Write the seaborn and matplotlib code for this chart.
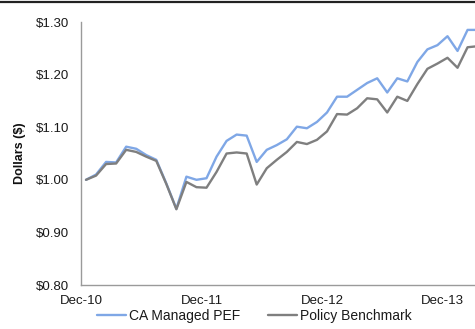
import numpy as np
import pandas as pd
import matplotlib
matplotlib.use("Agg")
import matplotlib.pyplot as plt
from matplotlib.lines import Line2D
import seaborn as sns

# Monthly growth of $1 invested, Dec-10 through Mar-14
months = ["Dec-10", "Jan-11", "Feb-11", "Mar-11", "Apr-11", "May-11", "Jun-11", "Jul-11",
          "Aug-11", "Sep-11", "Oct-11", "Nov-11", "Dec-11", "Jan-12", "Feb-12", "Mar-12",
          "Apr-12", "May-12", "Jun-12", "Jul-12", "Aug-12", "Sep-12", "Oct-12", "Nov-12",
          "Dec-12", "Jan-13", "Feb-13", "Mar-13", "Apr-13", "May-13", "Jun-13", "Jul-13",
          "Aug-13", "Sep-13", "Oct-13", "Nov-13", "Dec-13", "Jan-14", "Feb-14", "Mar-14"]

ca_managed_pef = [1.000, 1.010, 1.034, 1.033, 1.063, 1.059, 1.047, 1.038,
                  0.993, 0.945, 1.006, 1.000, 1.003, 1.044, 1.074, 1.086,
                  1.084, 1.034, 1.057, 1.066, 1.077, 1.101, 1.098, 1.110,
                  1.128, 1.158, 1.158, 1.171, 1.184, 1.193, 1.166, 1.193,
                  1.187, 1.224, 1.248, 1.256, 1.273, 1.245, 1.285, 1.285]

policy_benchmark = [1.000, 1.008, 1.030, 1.031, 1.057, 1.053, 1.044, 1.036,
                    0.992, 0.944, 0.996, 0.986, 0.985, 1.015, 1.050, 1.052,
                    1.050, 0.991, 1.022, 1.038, 1.053, 1.072, 1.068, 1.076,
                    1.092, 1.125, 1.124, 1.136, 1.155, 1.153, 1.128, 1.158,
                    1.150, 1.182, 1.211, 1.221, 1.232, 1.213, 1.252, 1.254]

series_names = ["CA Managed PEF", "Policy Benchmark"]
series_colors = ["#7fa7e6", "#7f7f7f"]

y_ticks = [0.80, 0.90, 1.00, 1.10, 1.20, 1.30]
x_tick_labels = ["Dec-10", "Dec-11", "Dec-12", "Dec-13"]

df = pd.DataFrame({
    "month": np.arange(len(months)),
    series_names[0]: ca_managed_pef,
    series_names[1]: policy_benchmark,
}).melt(id_vars="month", var_name="series", value_name="value")

sns.set_theme(style="white")
plt.rcParams["font.family"] = ["Liberation Sans", "DejaVu Sans"]

fig = plt.figure(figsize=(4.75, 3.29), dpi=100)
ax = fig.add_axes([0.1705, 0.1337, 0.8295, 0.7994])

sns.lineplot(data=df, x="month", y="value", hue="series", hue_order=series_names,
             palette=series_colors, linewidth=1.7, ax=ax, legend=False)

# category axis: ticks sit on the boundaries between yearly groups of months
ax.set_xlim(-0.5, 38.74)
ax.set_ylim(0.80, 1.30)
tick_pos = [months.index(lbl) - 0.5 for lbl in x_tick_labels]
ax.set_xticks(tick_pos)
ax.set_xticklabels(x_tick_labels)
ax.set_yticks(y_ticks)
ax.set_yticklabels([f"${v:.2f}" for v in y_ticks])

ax.set_xlabel("")
ax.set_ylabel("Dollars ($)", fontsize=9, fontweight="bold", color="#111111", labelpad=7)

for side in ["top", "right"]:
    ax.spines[side].set_visible(False)
for side in ["left", "bottom"]:
    ax.spines[side].set_color("#9a9a9a")
    ax.spines[side].set_linewidth(1.0)

ax.tick_params(axis="both", which="major", direction="out", length=3.5, width=0.9,
               color="#9a9a9a", labelsize=9.5, labelcolor="#1a1a1a")
ax.tick_params(axis="y", pad=5)
ax.tick_params(axis="x", pad=4)

handles = [Line2D([0], [0], color=c, lw=1.7) for c in series_colors]
fig.legend(handles, series_names, loc="lower center", bbox_to_anchor=(0.535, -0.012),
           ncol=2, frameon=False, fontsize=10, handlelength=2.1, handletextpad=0.2,
           columnspacing=2.0, labelcolor="#1a1a1a", borderpad=0.2)

# frame rule across the top of the figure
fig.add_artist(Line2D([0, 1], [0.995, 0.995], transform=fig.transFigure,
                      color="#222222", lw=1.6))

fig.savefig("out.png", dpi=100)
